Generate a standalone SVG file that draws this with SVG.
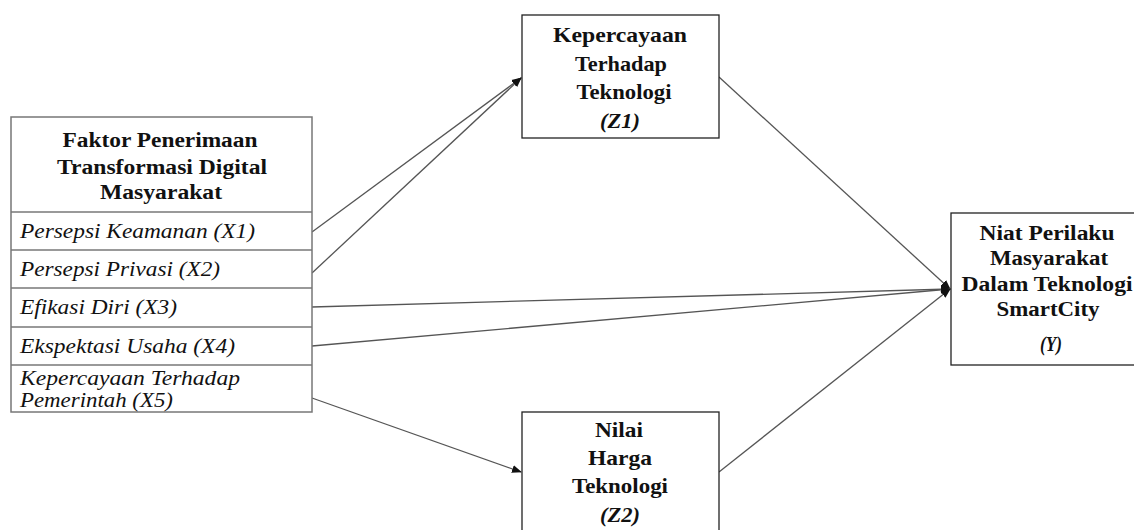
<svg xmlns="http://www.w3.org/2000/svg" width="1134" height="530" viewBox="0 0 1134 530">
<style>
.box{fill:#fff;stroke:#222;stroke-width:1.3}
.lbox{fill:#fff;stroke:#777;stroke-width:1.5}
.b{font-family:'Liberation Serif','Times New Roman','DejaVu Serif',serif;font-weight:bold;font-size:20px;fill:#111;text-anchor:middle}
.z{font-size:21px}
.i{font-family:'Liberation Serif','Times New Roman','DejaVu Serif',serif;font-style:italic;font-size:20px;fill:#111}
.bi{font-style:italic}
.c{stroke:#555;stroke-width:1.3;fill:none}
</style>
<defs>
<marker id="ah" viewBox="0 0 10 10" refX="9" refY="5" markerWidth="10" markerHeight="10" markerUnits="userSpaceOnUse" orient="auto">
<path d="M0,1 L10,5 L0,9 z" fill="#111"/>
</marker>
</defs>
<g id="connectors">
<line class="c" x1="312" y1="232" x2="521" y2="78" marker-end="url(#ah)"/>
<line class="c" x1="312" y1="273" x2="521" y2="78" marker-end="url(#ah)"/>
<line class="c" x1="719" y1="77" x2="950" y2="289" marker-end="url(#ah)"/>
<line class="c" x1="312" y1="307" x2="950" y2="289" marker-end="url(#ah)"/>
<line class="c" x1="312" y1="346" x2="950" y2="289" marker-end="url(#ah)"/>
<line class="c" x1="719" y1="472" x2="950" y2="289" marker-end="url(#ah)"/>
<line class="c" x1="312" y1="398" x2="521" y2="472" marker-end="url(#ah)"/>
</g>
<g id="X">
<rect class="lbox" x="11" y="117" width="301" height="295"/>
<line class="lbox" x1="11" y1="212" x2="312" y2="212"/>
<line class="lbox" x1="11" y1="250" x2="312" y2="250"/>
<line class="lbox" x1="11" y1="288" x2="312" y2="288"/>
<line class="lbox" x1="11" y1="327" x2="312" y2="327"/>
<line class="lbox" x1="11" y1="365" x2="312" y2="365"/>
<text class="b" x="160" y="147" textLength="195" lengthAdjust="spacingAndGlyphs">Faktor Penerimaan</text>
<text class="b" x="162" y="174" textLength="210" lengthAdjust="spacingAndGlyphs">Transformasi  Digital</text>
<text class="b" x="161" y="199" textLength="122" lengthAdjust="spacingAndGlyphs">Masyarakat</text>
<text class="i" x="20" y="238" textLength="235" lengthAdjust="spacingAndGlyphs">Persepsi Keamanan (X1)</text>
<text class="i" x="20" y="276" textLength="200" lengthAdjust="spacingAndGlyphs">Persepsi Privasi (X2)</text>
<text class="i" x="20" y="314" textLength="157" lengthAdjust="spacingAndGlyphs">Efikasi Diri (X3)</text>
<text class="i" x="20" y="353" textLength="215" lengthAdjust="spacingAndGlyphs">Ekspektasi Usaha (X4)</text>
<text class="i" x="20" y="385" textLength="220" lengthAdjust="spacingAndGlyphs">Kepercayaan Terhadap</text>
<text class="i" x="20" y="407" textLength="153" lengthAdjust="spacingAndGlyphs">Pemerintah (X5)</text>
</g>
<g id="Z1">
<rect class="box" x="522" y="15" width="197" height="123"/>
<text class="b z" x="620" y="42" textLength="134" lengthAdjust="spacingAndGlyphs">Kepercayaan</text>
<text class="b z" x="621" y="71" textLength="92" lengthAdjust="spacingAndGlyphs">Terhadap</text>
<text class="b z" x="624" y="99" textLength="95" lengthAdjust="spacingAndGlyphs">Teknologi</text>
<text class="b z bi" x="620" y="128" textLength="40" lengthAdjust="spacingAndGlyphs">(Z1)</text>
</g>
<g id="Z2">
<rect class="box" x="522" y="412" width="197" height="125"/>
<text class="b z" x="619" y="437" textLength="48" lengthAdjust="spacingAndGlyphs">Nilai</text>
<text class="b z" x="620" y="465" textLength="64" lengthAdjust="spacingAndGlyphs">Harga</text>
<text class="b z" x="620" y="493" textLength="96" lengthAdjust="spacingAndGlyphs">Teknologi</text>
<text class="b z bi" x="620" y="522" textLength="40" lengthAdjust="spacingAndGlyphs">(Z2)</text>
</g>
<g id="Y">
<rect class="box" x="951" y="213" width="190" height="152"/>
<text class="b" x="1047" y="240" textLength="135" lengthAdjust="spacingAndGlyphs">Niat Perilaku</text>
<text class="b" x="1049" y="265" textLength="118" lengthAdjust="spacingAndGlyphs">Masyarakat</text>
<text class="b" x="1047" y="291" textLength="171" lengthAdjust="spacingAndGlyphs">Dalam Teknologi</text>
<text class="b" x="1048" y="316" textLength="103" lengthAdjust="spacingAndGlyphs">SmartCity</text>
<text class="b bi" x="1051" y="351" textLength="22" lengthAdjust="spacingAndGlyphs">(Y)</text>
</g>
</svg>
